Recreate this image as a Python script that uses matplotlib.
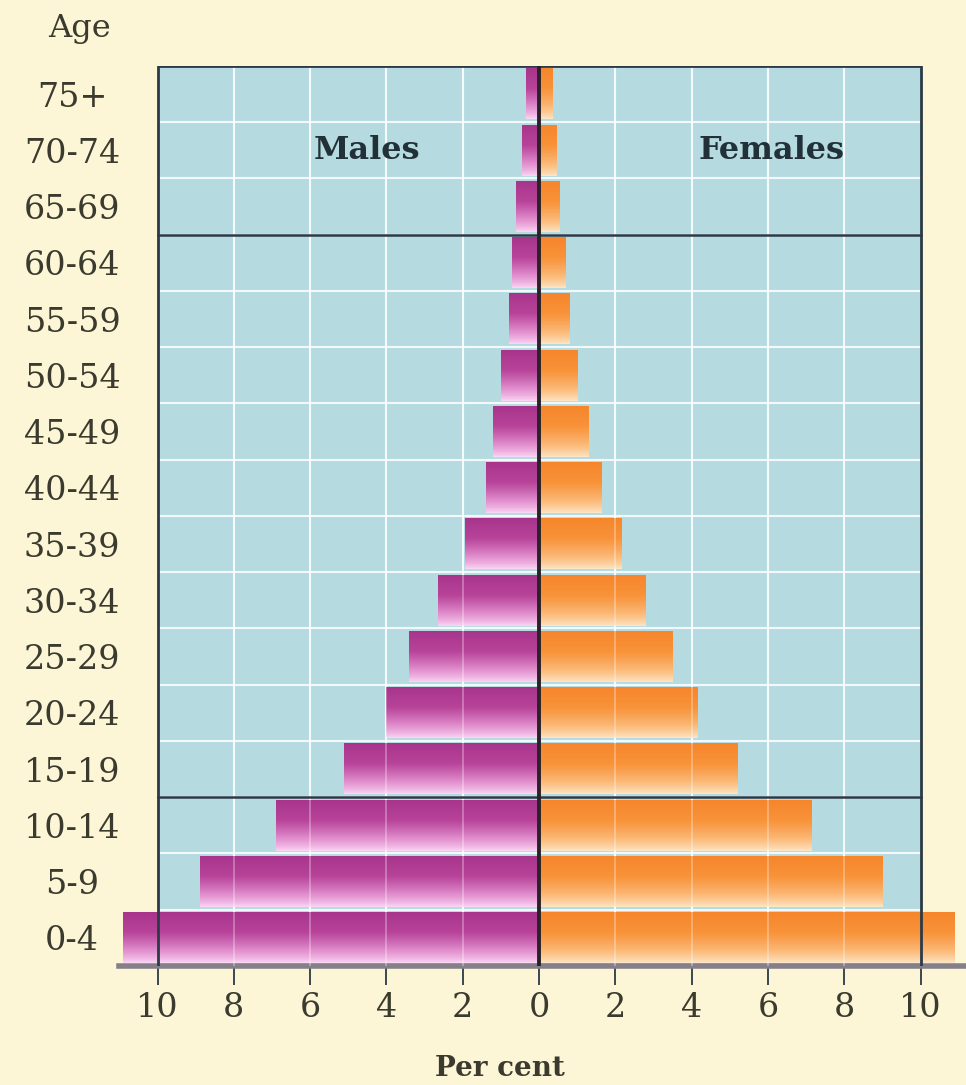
import numpy as np
import matplotlib.pyplot as plt
from matplotlib.colors import LinearSegmentedColormap
from matplotlib.patches import Rectangle

# age groups, bottom to top
ages = ["0-4", "5-9", "10-14", "15-19", "20-24", "25-29", "30-34", "35-39",
        "40-44", "45-49", "50-54", "55-59", "60-64", "65-69", "70-74", "75+"]
males = [10.9, 8.9, 6.9, 5.1, 4.0, 3.4, 2.65, 1.95,
         1.4, 1.2, 1.0, 0.8, 0.7, 0.6, 0.45, 0.35]
females = [10.9, 9.0, 7.15, 5.2, 4.15, 3.5, 2.8, 2.15,
           1.65, 1.3, 1.0, 0.8, 0.7, 0.55, 0.45, 0.35]
xticks = [-10, -8, -6, -4, -2, 0, 2, 4, 6, 8, 10]

serif = ["DejaVu Serif"]
txtcol = "#3a3a2e"
bg = "#fcf6d6"
blue = "#b5dbe0"
dark = "#2c3a48"

male_cmap = LinearSegmentedColormap.from_list("m", ["#fbd6f4", "#e08ccc", "#b8449a", "#a8358c"])
female_cmap = LinearSegmentedColormap.from_list("f", ["#fde6c6", "#fbb774", "#f8933a", "#f6862c"])

fig = plt.figure(figsize=(9.66, 10.85), dpi=100, facecolor=bg)
ax = fig.add_axes([0.1236, 0.1097, 0.8768, 0.8295])
ax.set_facecolor(bg)

y = np.arange(len(ages))
ax.add_patch(Rectangle((-10, -0.5), 20, len(ages), facecolor=blue, edgecolor="none", zorder=0))

# white grid inside the blue panel
for k in range(len(ages) - 1):
    ax.plot([-10, 10], [k + 0.5, k + 0.5], color="white", lw=1.5, alpha=0.85, zorder=1)
for xv in xticks[1:-1]:
    ax.plot([xv, xv], [-0.5, len(ages) - 0.5], color="white", lw=1.5, alpha=0.85, zorder=1)

bh = 0.9
mb = ax.barh(y, [-v for v in males], height=bh, color="none", edgecolor="none")
fb = ax.barh(y, females, height=bh, color="none", edgecolor="none")

grad = np.linspace(0, 1, 64).reshape(-1, 1) ** 0.8
for bars, cm in ((mb, male_cmap), (fb, female_cmap)):
    for p in bars:
        x0, w = p.get_x(), p.get_width()
        y0, h = p.get_y(), p.get_height()
        ax.imshow(grad, cmap=cm, origin="lower", aspect="auto",
                  extent=[min(x0, x0 + w), max(x0, x0 + w), y0, y0 + h], zorder=2)

# faint grid over the bars
for xv in xticks[1:-1]:
    ax.plot([xv, xv], [-0.5, len(ages) - 0.5], color="white", lw=1.2, alpha=0.35, zorder=3)

# panel frame and dividers
top = len(ages) - 0.5
ax.plot([-10, -10, 10, 10], [-0.5, top, top, -0.5], color=dark, lw=2, zorder=4)
for yy in (2.5, 12.5):
    ax.plot([-10, 10], [yy, yy], color=dark, lw=1.8, zorder=4)
ax.plot([0, 0], [-0.5, top], color="#2a2228", lw=2.8, zorder=5)

ax.set_xlim(-11.0, 11.2)
ax.set_ylim(-0.5, top)

for s in ("left", "right", "top"):
    ax.spines[s].set_visible(False)
ax.spines["bottom"].set_color("#857f8a")
ax.spines["bottom"].set_linewidth(4)

ax.set_xticks(xticks)
ax.set_xticklabels([str(abs(v)) for v in xticks], family=serif, fontsize=24, color=txtcol)
ax.tick_params(axis="x", length=14, width=1.3, color=dark, pad=5)
ax.set_yticks(y)
ax.set_yticklabels(ages, family=serif, fontsize=24, color=txtcol, ha="center")
ax.tick_params(axis="y", length=0, pad=34)

ax.text(-4.5, 14, "Males", family=serif, fontsize=23, fontweight="bold",
        color="#223038", ha="center", va="center", zorder=6)
ax.text(6.1, 14, "Females", family=serif, fontsize=23, fontweight="bold",
        color="#223038", ha="center", va="center", zorder=6)

fig.text(80 / 966, 1 - 28 / 1085, "Age", family=serif, fontsize=23, color=txtcol,
         ha="center", va="center")
fig.text(500 / 966, 1 - 1068 / 1085, "Per cent", family=serif, fontsize=20,
         fontweight="bold", color=txtcol, ha="center", va="center")

fig.savefig("out.png", dpi=100, facecolor=bg)
